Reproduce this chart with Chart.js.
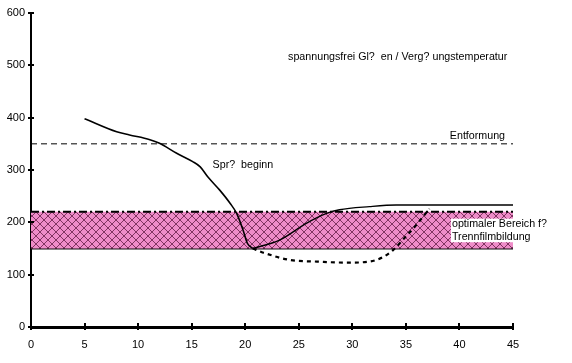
<!DOCTYPE html>
<html>
<head>
<meta charset="utf-8">
<script src="https://cdn.jsdelivr.net/npm/chart.js@4.4.1/dist/chart.umd.min.js"></script>
<style>
html,body{margin:0;padding:0;background:#fff;}
#wrap{width:572px;height:363px;position:relative;}
</style>
</head>
<body>
<div id="wrap"><canvas id="c" width="572" height="363"></canvas></div>
<script>
// Main cooling curve (solid)
const mainX = [5, 8, 9.2, 11.1, 12.0, 13.6, 15.1, 15.8, 16.5, 17.6, 18.6, 19.2, 19.8, 20.2, 20.7];
const mainY = [398, 373, 367, 358, 351, 332, 316, 306, 287, 262, 236, 217, 185, 160, 150];
// Rising curve (solid)
const riseX = [20.7, 23.2, 25.7, 27.6, 28.8, 31.6, 34.1, 45];
const riseY = [150, 166, 198, 217, 224, 230, 233, 233];
// Dotted curve
const dotX = [20.7, 21.7, 24.2, 26.7, 29.5, 31.6, 32.9, 33.8, 35.0, 36.1, 36.6, 37.2];
const dotY = [150, 142, 128, 125, 123, 125, 134, 147, 173, 198, 211, 226];
// Reference lines / band
const bandX = [0, 45];
const bandTop = [220, 220];
const bandBottom = [150, 150];
const entformX = [0, 45];
const entformY = [350, 350];
// Axis ranges
const xRange = [0, 45, 5];
const yRange = [0, 600, 100];
// Annotations (data coordinates)
const labels = [
  {text: 'spannungsfrei Gl?  en / Verg? ungstemperatur', x: 24.0, y: 516},
  {text: 'Entformung', x: 39.1, y: 365},
  {text: 'Spr?  beginn', x: 16.95, y: 309},
  {text: 'optimaler Bereich f?', x: 39.3, y: 196},
  {text: 'Trennfilmbildung', x: 39.3, y: 172.5}
];

const pts = (xs, ys) => xs.map((x, i) => ({x: x, y: ys[i]}));
const FONT = '"Liberation Sans", Arial, sans-serif';

// crosshatch pattern
const pc = document.createElement('canvas');
pc.width = 8; pc.height = 8;
const pctx = pc.getContext('2d');
pctx.fillStyle = 'rgb(238,140,200)';
pctx.fillRect(0, 0, 8, 8);
pctx.strokeStyle = 'rgb(100,30,70)';
pctx.lineWidth = 0.8;
pctx.beginPath();
pctx.moveTo(0, 0); pctx.lineTo(8, 8);
pctx.moveTo(8, 0); pctx.lineTo(0, 8);
pctx.stroke();
const pattern = pctx.createPattern(pc, 'repeat');

const crossTicks = {
  id: 'crossTicks',
  afterDatasetsDraw(chart) {
    const ctx = chart.ctx;
    const xs = chart.scales.x, ys = chart.scales.y;
    ctx.save();
    ctx.strokeStyle = '#000';
    ctx.lineWidth = 2;
    ys.ticks.forEach(t => {
      const p = Math.round(ys.getPixelForValue(t.value));
      ctx.beginPath();
      ctx.moveTo(xs.left - 3, p);
      ctx.lineTo(xs.left + 3, p);
      ctx.stroke();
    });
    xs.ticks.forEach(t => {
      const p = Math.round(xs.getPixelForValue(t.value));
      ctx.beginPath();
      ctx.moveTo(p, ys.bottom - 4);
      ctx.lineTo(p, ys.bottom + 3);
      ctx.stroke();
    });
    ctx.font = '10.7px ' + FONT;
    ctx.textBaseline = 'middle';
    ctx.textAlign = 'left';
    const bx = xs.getPixelForValue(39.3) - 1;
    const by1 = ys.getPixelForValue(207);
    const by2 = ys.getPixelForValue(162);
    ctx.fillStyle = '#fff';
    ctx.fillRect(bx, by1, 96, by2 - by1);
    ctx.fillStyle = '#000';
    labels.forEach(l => {
      ctx.fillText(l.text, xs.getPixelForValue(l.x), ys.getPixelForValue(l.y));
    });
    ctx.restore();
  }
};

new Chart(document.getElementById('c'), {
  type: 'line',
  data: {
    datasets: [
      {data: pts(mainX, mainY), borderColor: '#000', borderWidth: 1.6, pointRadius: 0, cubicInterpolationMode: 'monotone', fill: false},
      {data: pts(riseX, riseY), borderColor: '#000', borderWidth: 1.4, pointRadius: 0, cubicInterpolationMode: 'monotone', fill: false},
      {data: pts(dotX, dotY), borderColor: '#000', borderWidth: 2.2, borderDash: [4, 4], pointRadius: 0, cubicInterpolationMode: 'monotone', fill: false},
      {data: pts(entformX, entformY), borderColor: '#000', borderWidth: 1, borderDash: [6, 4], pointRadius: 0, fill: false},
      {data: pts(bandX, bandTop), borderColor: '#000', borderWidth: 2, borderDash: [8, 3, 2, 3], pointRadius: 0, fill: '+1', backgroundColor: pattern},
      {data: pts(bandX, bandBottom), borderColor: '#111', borderWidth: 2, pointRadius: 0, fill: false}
    ]
  },
  options: {
    responsive: false,
    animation: false,
    layout: {padding: {top: 13, right: 59, left: 0, bottom: 0}},
    plugins: {legend: {display: false}, tooltip: {enabled: false}, title: {display: false}},
    scales: {
      x: {
        type: 'linear', min: xRange[0], max: xRange[1],
        ticks: {stepSize: xRange[2], color: '#000', padding: 11, font: {family: FONT, size: 11}, maxRotation: 0},
        grid: {display: true, drawOnChartArea: false, drawTicks: false},
        border: {display: true, color: '#000', width: 3},
        afterFit(s) { s.height = 36; }
      },
      y: {
        type: 'linear', min: yRange[0], max: yRange[1],
        ticks: {stepSize: yRange[2], color: '#000', padding: 6, font: {family: FONT, size: 11}},
        grid: {display: true, drawOnChartArea: false, drawTicks: false},
        border: {display: true, color: '#000', width: 2},
        afterFit(s) { s.width = 31; }
      }
    }
  },
  plugins: [crossTicks]
});
</script>
</body>
</html>
